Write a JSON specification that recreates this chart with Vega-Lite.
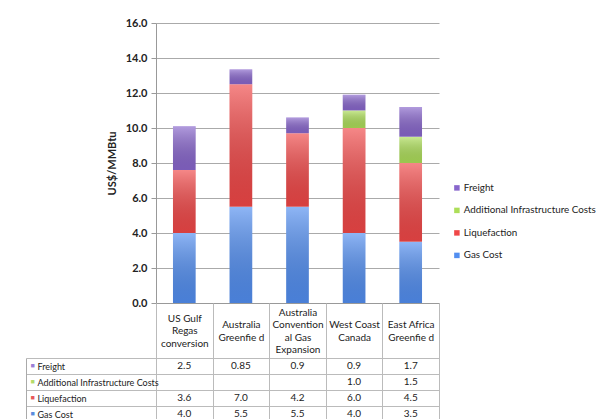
{
  "$schema": "https://vega.github.io/schema/vega-lite/v6.json",
  "background": "white",
  "padding": {"left": 25, "top": 17, "right": 0, "bottom": 0},
  "bounds": "flush",
  "spacing": 55,
  "config": {
    "font": "Lato",
    "view": {"stroke": null},
    "axis": {"labelFont": "Lato", "titleFont": "Lato", "labelColor": "#222", "titleColor": "#222"},
    "legend": {"labelFont": "Lato"}
  },
  "datasets": {
    "costs": [
      {"category": "US Gulf Regas conversion", "series": "Gas Cost", "rank": 1, "value": 4.0, "label": "4.0"},
      {"category": "US Gulf Regas conversion", "series": "Liquefaction", "rank": 2, "value": 3.6, "label": "3.6"},
      {"category": "US Gulf Regas conversion", "series": "Freight", "rank": 4, "value": 2.5, "label": "2.5"},
      {"category": "Australia Greenfield", "series": "Gas Cost", "rank": 1, "value": 5.5, "label": "5.5"},
      {"category": "Australia Greenfield", "series": "Liquefaction", "rank": 2, "value": 7.0, "label": "7.0"},
      {"category": "Australia Greenfield", "series": "Freight", "rank": 4, "value": 0.85, "label": "0.85"},
      {"category": "Australia Conventional Gas Expansion", "series": "Gas Cost", "rank": 1, "value": 5.5, "label": "5.5"},
      {"category": "Australia Conventional Gas Expansion", "series": "Liquefaction", "rank": 2, "value": 4.2, "label": "4.2"},
      {"category": "Australia Conventional Gas Expansion", "series": "Freight", "rank": 4, "value": 0.9, "label": "0.9"},
      {"category": "West Coast Canada", "series": "Gas Cost", "rank": 1, "value": 4.0, "label": "4.0"},
      {"category": "West Coast Canada", "series": "Liquefaction", "rank": 2, "value": 6.0, "label": "6.0"},
      {"category": "West Coast Canada", "series": "Additional Infrastructure Costs", "rank": 3, "value": 1.0, "label": "1.0"},
      {"category": "West Coast Canada", "series": "Freight", "rank": 4, "value": 0.9, "label": "0.9"},
      {"category": "East Africa Greenfield", "series": "Gas Cost", "rank": 1, "value": 3.5, "label": "3.5"},
      {"category": "East Africa Greenfield", "series": "Liquefaction", "rank": 2, "value": 4.5, "label": "4.5"},
      {"category": "East Africa Greenfield", "series": "Additional Infrastructure Costs", "rank": 3, "value": 1.5, "label": "1.5"},
      {"category": "East Africa Greenfield", "series": "Freight", "rank": 4, "value": 1.7, "label": "1.7"}
    ]
  },
  "resolve": {"scale": {"x": "independent"}},
  "vconcat": [
    {
      "width": 283,
      "height": 280,
      "data": {"name": "costs"},
      "encoding": {
        "x": {
          "field": "category", "type": "nominal",
          "sort": ["US Gulf Regas conversion", "Australia Greenfield", "Australia Conventional Gas Expansion", "West Coast Canada", "East Africa Greenfield"],
          "scale": {"paddingInner": 0.6, "paddingOuter": 0.3},
          "axis": {"title": null, "labels": false, "ticks": false, "domainColor": "#999"}
        },
        "y": {
          "field": "value", "type": "quantitative", "stack": "zero",
          "scale": {"domain": [0, 16], "nice": false},
          "axis": {
            "title": "US$/MMBtu", "values": [0, 2, 4, 6, 8, 10, 12, 14, 16], "format": ".1f",
            "labelFontWeight": "bold", "labelFontSize": 11, "labelPadding": 4,
            "tickSize": 5, "tickColor": "#999", "domainColor": "#999", "gridColor": "#aaa",
            "titleFontSize": 11, "titleFontWeight": "bold", "titlePadding": 8
          }
        },
        "order": {"field": "rank", "type": "quantitative"}
      },
      "layer": [
        {
          "mark": {"type": "bar"},
          "encoding": {
            "color": {
              "field": "series", "type": "nominal",
              "scale": {
                "domain": ["Freight", "Additional Infrastructure Costs", "Liquefaction", "Gas Cost"],
                "range": ["#8866CC", "#ADDE59", "#F04747", "#528EF0"]
              },
              "legend": {
                "title": null, "orient": "none", "legendX": 296, "legendY": 160, "padding": 0,
                "symbolType": "square", "symbolSize": 30, "symbolStrokeWidth": 0,
                "labelFontSize": 9.8, "labelColor": "#222", "labelLimit": 0, "rowPadding": 11.5, "labelOffset": 2
              }
            }
          }
        },
        {
          "mark": {
            "type": "bar",
            "color": {
              "gradient": "linear", "x1": 0, "y1": 0, "x2": 0, "y2": 1,
              "stops": [
                {"offset": 0, "color": "rgba(255,255,255,0.35)"},
                {"offset": 1, "color": "rgba(0,0,0,0.1)"}
              ]
            }
          },
          "encoding": {"detail": {"field": "series", "type": "nominal"}}
        }
      ]
    },
    {
      "width": 283,
      "height": 64,
      "view": {"stroke": "#bbb"},
      "data": {"name": "costs"},
      "encoding": {
        "x": {
          "field": "category", "type": "nominal",
          "sort": ["US Gulf Regas conversion", "Australia Greenfield", "Australia Conventional Gas Expansion", "West Coast Canada", "East Africa Greenfield"],
          "scale": {"padding": 0},
          "axis": {
            "orient": "top", "title": null, "tickBand": "extent", "tickSize": 55,
            "tickColor": "#bbb", "domainColor": "#bbb", "grid": true, "gridColor": "#bbb",
            "labelExpr": "datum.value == 'US Gulf Regas conversion' ? ['US Gulf', 'Regas', 'conversion'] : datum.value == 'Australia Greenfield' ? ['Australia', 'Greenfie d'] : datum.value == 'Australia Conventional Gas Expansion' ? ['Australia', 'Convention', 'al Gas', 'Expansion'] : datum.value == 'West Coast Canada' ? ['West Coast', 'Canada'] : datum.value == 'East Africa Greenfield' ? ['East Africa', 'Greenfie d'] : ''",
            "labelPadding": {
              "condition": [
                {"test": "datum.value == 'Australia Conventional Gas Expansion'", "value": -9},
                {"test": "datum.value == 'US Gulf Regas conversion'", "value": -15.25}
              ],
              "value": -21.5
            },
            "labelBaseline": "middle", "labelAngle": 0,
            "labelFontSize": 10, "labelLineHeight": 12.5, "labelLimit": 0
          }
        }
      },
      "layer": [
        {
          "mark": {"type": "text", "fontSize": 10, "color": "#222"},
          "encoding": {
            "text": {"field": "label", "type": "nominal"},
            "y": {
              "field": "series", "type": "nominal",
              "sort": ["Freight", "Additional Infrastructure Costs", "Liquefaction", "Gas Cost"],
              "scale": {"padding": 0},
              "axis": {
                "title": null, "tickBand": "extent", "tickSize": 130, "tickColor": "#bbb",
                "domain": false, "grid": true, "gridColor": "#bbb",
                "labelAlign": "left", "labelPadding": -11, "labelFontSize": 9, "labelLimit": 0
              }
            }
          }
        },
        {
          "mark": {"type": "text", "opacity": 0, "text": ""},
          "encoding": {
            "y": {
              "field": "series", "type": "nominal",
              "sort": ["Freight", "Additional Infrastructure Costs", "Liquefaction", "Gas Cost"],
              "scale": {"padding": 0},
              "axis": {
                "orient": "left", "offset": 130, "title": null, "ticks": false, "grid": false,
                "domain": true, "domainColor": "#aaa",
                "labelExpr": "'■'", "labelAlign": "center", "labelPadding": -6, "labelFontSize": 7,
                "labelColor": {
                  "condition": [
                    {"test": "datum.value == 'Freight'", "value": "#9A7FD6"},
                    {"test": "datum.value == 'Liquefaction'", "value": "#E8585A"},
                    {"test": "datum.value == 'Gas Cost'", "value": "#5A8CDC"}
                  ],
                  "value": "#B5DB6A"
                }
              }
            }
          }
        }
      ],
      "resolve": {"axis": {"y": "independent"}}
    }
  ]
}
